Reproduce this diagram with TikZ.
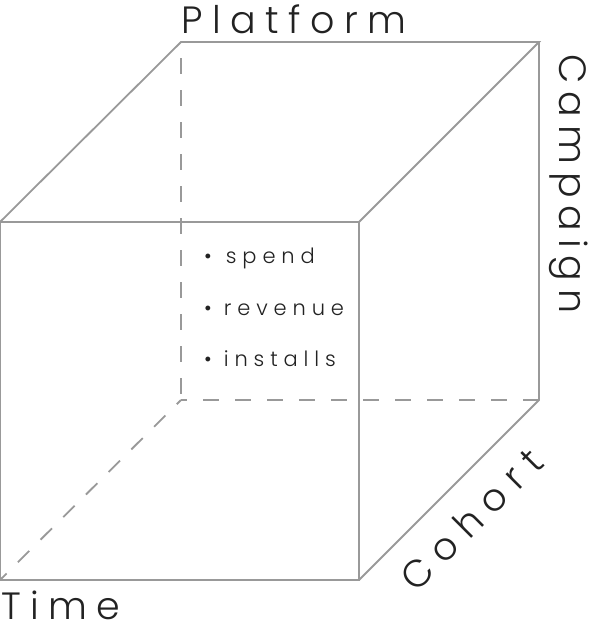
\documentclass[tikz,border=0pt]{standalone}
\usepackage{fontspec}
\setmainfont{Poppins Light}
\definecolor{edge}{HTML}{999999}
\definecolor{ink}{HTML}{222222}
\begin{document}
\begin{tikzpicture}[x=1pt,y=-1pt,
  edgeline/.style={draw=edge,line width=1.8pt},
  hiddenline/.style={draw=edge,line width=1.8pt,dash pattern=on 16pt off 16pt},
  axislabel/.style={text=ink,font=\fontsize{38}{40}\selectfont,inner sep=0pt},
  itemlabel/.style={text=ink,font=\addfontfeatures{LetterSpace=28}\fontsize{21}{24}\selectfont,inner sep=0pt,anchor=base west}]
\useasboundingbox (0,0) rectangle (590,622);
% corners
\coordinate (f1) at (0,222);
\coordinate (f2) at (359,222);
\coordinate (f3) at (359,580);
\coordinate (f4) at (0,580);
\coordinate (b1) at (181,42);
\coordinate (b2) at (539,42);
\coordinate (b3) at (539,400);
\coordinate (b4) at (181,400);
% hidden edges
\draw[hiddenline,dash phase=16pt] (b1) -- (b4);
\draw[hiddenline,dash phase=10pt] (b4) -- (b3);
\draw[hiddenline,dash phase=10pt] (b4) -- (f4);
% visible edges
\draw[edgeline] (f1) -- (f2) -- (f3) -- (f4) -- cycle;
\draw[edgeline] (f1) -- (b1) -- (b2) -- (f2);
\draw[edgeline] (b2) -- (b3) -- (f3);
% labels
\node[axislabel,anchor=base,font=\addfontfeatures{LetterSpace=25}\fontsize{38}{40}\selectfont] (platform) at (294,33) {Platform};
\node[axislabel,anchor=base,rotate=-90,font=\addfontfeatures{LetterSpace=21}\fontsize{38}{40}\selectfont] (campaign) at (559,184) {Campaign};
\node[axislabel,anchor=base,rotate=45,font=\addfontfeatures{LetterSpace=28}\fontsize{38}{40}\selectfont] (cohort) at (481,529) {Cohort};
\node[axislabel,anchor=base west,font=\addfontfeatures{LetterSpace=25}\fontsize{38}{40}\selectfont] (time) at (1,619) {Time};
% items
\node[itemlabel] (spend) at (204,263) {•\hspace{14pt}spend};
\node[itemlabel] (revenue) at (204,315) {•\hspace{12pt}revenue};
\node[itemlabel] (installs) at (204,366) {•\hspace{12pt}installs};
\end{tikzpicture}
\end{document}
